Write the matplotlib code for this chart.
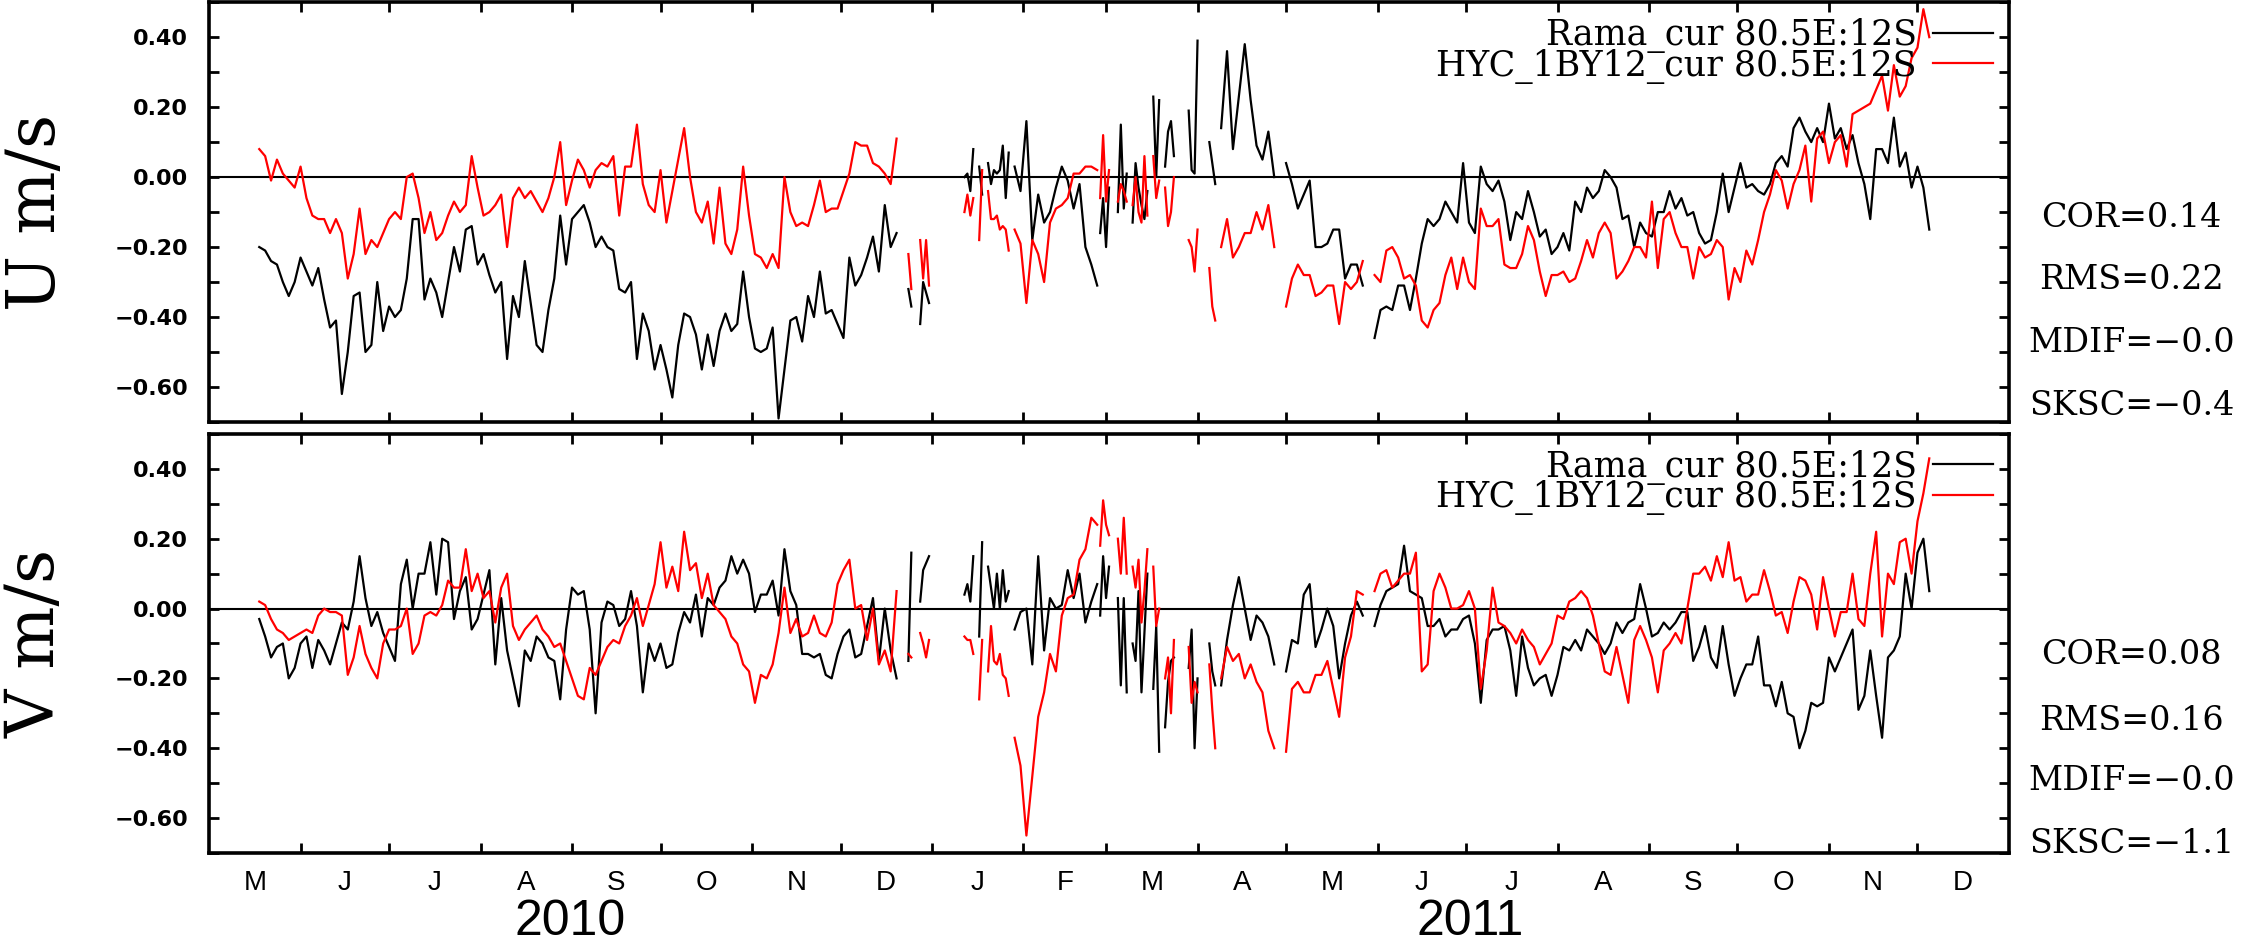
import numpy as np
import matplotlib
matplotlib.use('Agg')
import matplotlib.pyplot as plt
import matplotlib.transforms as mtransforms

# RAMA mooring vs HYCOM 1/12 currents at 80.5E, 12S (daily, May 2010 - Dec 2011)
start = np.datetime64('2010-05-01')

# data segments: first day (offset from 2010-05-01) and spacing in days
seg_first = [17, 237, 241, 256, 261, 264, 273, 302, 308, 313, 320, 324, 332, 339, 343, 365, 395]
seg_step = [2, 1, 1, 1, 1, 1, 2, 1, 1, 1, 1, 1, 1, 1, 2, 2, 2]

u_rama = [
    [-0.20, -0.21, -0.24, -0.25, -0.30, -0.34, -0.30, -0.23, -0.27, -0.31,
     -0.26, -0.35, -0.43, -0.41, -0.62, -0.50, -0.34, -0.33, -0.50, -0.48,
     -0.30, -0.44, -0.37, -0.40, -0.38, -0.29, -0.12, -0.12, -0.35, -0.29,
     -0.33, -0.40, -0.30, -0.20, -0.27, -0.15, -0.14, -0.25, -0.22, -0.28,
     -0.33, -0.30, -0.52, -0.34, -0.40, -0.24, -0.36, -0.48, -0.50, -0.38,
     -0.29, -0.11, -0.25, -0.12, -0.10, -0.08, -0.13, -0.20, -0.17, -0.20,
     -0.21, -0.32, -0.33, -0.30, -0.52, -0.39, -0.44, -0.55, -0.48, -0.55,
     -0.63, -0.48, -0.39, -0.40, -0.45, -0.55, -0.45,
     -0.54, -0.44, -0.39, -0.44, -0.42, -0.27, -0.40, -0.49, -0.50, -0.49,
     -0.43, -0.69, -0.55, -0.41, -0.40, -0.47, -0.34, -0.40, -0.27, -0.39,
     -0.38, -0.42, -0.46, -0.23, -0.31, -0.28, -0.23, -0.17, -0.27, -0.08,
     -0.20, -0.16],
    [-0.32, -0.37],
    [-0.42, -0.30, -0.33, -0.36],
    [0.00, 0.01, -0.04, 0.08],
    [0.03, -0.05],
    [0.04, -0.02, 0.02, 0.01, 0.02, 0.09, -0.06, 0.07],
    [0.03, -0.04, 0.16, -0.18, -0.05, -0.13, -0.10, -0.03, 0.03, -0.01,
     -0.09, -0.02, -0.20, -0.25, -0.31],
    [-0.16, -0.06, -0.20, -0.03],
    [-0.10, 0.15, -0.09, 0.01],
    [-0.13, 0.04, -0.03, -0.08, -0.12, -0.04],
    [0.23, 0.00, 0.22],
    [0.03, 0.13, 0.16, 0.06],
    [0.19, 0.02, 0.01, 0.39],
    [0.10, 0.04, -0.02],
    [0.14, 0.36, 0.08, 0.23, 0.38, 0.22, 0.09, 0.05, 0.13, 0.00],
    [0.04, -0.02, -0.09, -0.05, -0.01, -0.20, -0.20, -0.19, -0.15, -0.15,
     -0.29, -0.25, -0.25, -0.31],
    [-0.46, -0.38, -0.37, -0.38, -0.31, -0.31, -0.38, -0.29, -0.19, -0.12,
     -0.14, -0.12, -0.07, -0.10, -0.13, 0.04, -0.13, -0.16, 0.03, -0.02,
     -0.04, -0.01, -0.07, -0.18, -0.10, -0.12, -0.04, -0.10, -0.17, -0.15,
     -0.22, -0.20, -0.16, -0.21, -0.07, -0.10, -0.03, -0.06, -0.04, 0.02,
     0.00, -0.03, -0.12, -0.11, -0.20, -0.13, -0.16, -0.17, -0.10, -0.10,
     -0.04, -0.09, -0.06, -0.11, -0.10, -0.16, -0.19,
     -0.18, -0.10, 0.01, -0.10, -0.03, 0.04, -0.03, -0.02, -0.04, -0.05,
     -0.02, 0.04, 0.06, 0.03, 0.14, 0.17, 0.13, 0.10, 0.14, 0.10,
     0.21, 0.11, 0.14, 0.08, 0.12, 0.04, -0.02, -0.12, 0.08, 0.08,
     0.04, 0.17, 0.03, 0.07, -0.03, 0.03, -0.03, -0.15],
]

u_hycom = [
    [0.08, 0.06, -0.01, 0.05, 0.01, -0.01, -0.03, 0.03, -0.06, -0.11,
     -0.12, -0.12, -0.16, -0.12, -0.16, -0.29, -0.22, -0.09, -0.22, -0.18,
     -0.20, -0.16, -0.12, -0.10, -0.12, 0.00, 0.01, -0.06, -0.16, -0.10,
     -0.18, -0.16, -0.11, -0.07, -0.10, -0.08, 0.06, -0.03, -0.11, -0.10,
     -0.08, -0.05, -0.20, -0.06, -0.03, -0.06, -0.04, -0.07, -0.10, -0.06,
     0.00, 0.10, -0.08, -0.01, 0.05, 0.02, -0.03, 0.02, 0.04, 0.03,
     0.06, -0.11, 0.03, 0.03, 0.15, -0.02, -0.08, -0.10, 0.02, -0.13,
     -0.04, 0.05, 0.14, 0.00, -0.10, -0.13, -0.07,
     -0.19, -0.03, -0.19, -0.22, -0.15, 0.03, -0.11, -0.22, -0.23, -0.26,
     -0.22, -0.26, 0.00, -0.10, -0.14, -0.13, -0.14, -0.08, -0.01, -0.10,
     -0.09, -0.09, -0.04, 0.01, 0.10, 0.09, 0.09, 0.04, 0.03, 0.01,
     -0.02, 0.11],
    [-0.22, -0.32],
    [-0.18, -0.29, -0.18, -0.31],
    [-0.10, -0.05, -0.11, -0.06],
    [-0.18, 0.02],
    [-0.04, -0.12, -0.12, -0.11, -0.15, -0.14, -0.15, -0.21],
    [-0.15, -0.19, -0.36, -0.18, -0.22, -0.30, -0.13, -0.09, -0.08, -0.06,
     0.01, 0.01, 0.03, 0.03, 0.02],
    [-0.06, 0.12, -0.07, 0.02],
    [-0.07, -0.02, -0.04, -0.07],
    [-0.08, 0.00, -0.10, -0.13, 0.06, -0.11],
    [0.06, -0.06, -0.01],
    [-0.03, -0.14, -0.10, 0.00],
    [-0.18, -0.20, -0.27, -0.15],
    [-0.26, -0.37, -0.41],
    [-0.20, -0.12, -0.23, -0.20, -0.16, -0.16, -0.10, -0.15, -0.08, -0.20],
    [-0.37, -0.29, -0.25, -0.28, -0.28, -0.34, -0.33, -0.31, -0.31, -0.42,
     -0.30, -0.32, -0.30, -0.24],
    [-0.28, -0.30, -0.21, -0.20, -0.23, -0.29, -0.28, -0.31, -0.41, -0.43,
     -0.38, -0.36, -0.28, -0.23, -0.32, -0.23, -0.30, -0.32, -0.09, -0.14,
     -0.14, -0.12, -0.25, -0.26, -0.26, -0.22, -0.14, -0.18, -0.27, -0.34,
     -0.28, -0.28, -0.27, -0.30, -0.29, -0.24, -0.18, -0.23, -0.16, -0.13,
     -0.16, -0.29, -0.27, -0.24, -0.20, -0.20, -0.23, -0.07, -0.26, -0.12,
     -0.10, -0.16, -0.20, -0.20, -0.29, -0.20, -0.23,
     -0.22, -0.18, -0.20, -0.35, -0.26, -0.30, -0.21, -0.25, -0.18, -0.10,
     -0.05, 0.02, -0.01, -0.09, -0.02, 0.02, 0.09, -0.07, 0.11, 0.13,
     0.04, 0.10, 0.12, 0.03, 0.18, 0.19, 0.20, 0.21, 0.25, 0.29,
     0.19, 0.32, 0.23, 0.26, 0.34, 0.37, 0.48, 0.40],
]

v_rama = [
    [-0.03, -0.08, -0.14, -0.11, -0.10, -0.20, -0.17, -0.10, -0.08, -0.17,
     -0.09, -0.12, -0.16, -0.10, -0.04, -0.06, 0.02, 0.15, 0.03, -0.05,
     -0.01, -0.07, -0.11, -0.15, 0.07, 0.14, 0.00, 0.10, 0.10, 0.19,
     0.04, 0.20, 0.19, -0.03, 0.05, 0.09, -0.06, -0.03, 0.04, 0.11,
     -0.16, 0.03, -0.12, -0.20, -0.28, -0.12, -0.15, -0.08, -0.10, -0.14,
     -0.15, -0.26, -0.06, 0.06, 0.04, 0.05, -0.06, -0.30, -0.04, 0.02,
     0.01, -0.05, -0.03, 0.05, -0.05, -0.24, -0.10, -0.15, -0.10, -0.17,
     -0.16, -0.07, -0.01, -0.04, 0.04, -0.08, 0.03,
     0.01, 0.06, 0.08, 0.15, 0.10, 0.14, 0.10, -0.01, 0.04, 0.04,
     0.08, -0.02, 0.17, 0.05, 0.01, -0.13, -0.13, -0.14, -0.13, -0.19,
     -0.20, -0.13, -0.08, -0.06, -0.14, -0.13, -0.05, 0.03, -0.15, 0.00,
     -0.12, -0.20],
    [-0.15, 0.16],
    [0.02, 0.11, 0.13, 0.15],
    [0.04, 0.07, 0.02, 0.15],
    [-0.08, 0.19],
    [0.12, 0.06, 0.00, 0.10, 0.00, 0.11, 0.02, 0.05],
    [-0.06, -0.01, 0.00, -0.16, 0.15, -0.12, 0.03, 0.00, 0.01, 0.11,
     0.03, 0.10, -0.04, 0.02, 0.07],
    [-0.02, 0.15, 0.03, 0.12],
    [0.03, -0.22, 0.03, -0.24],
    [-0.10, -0.15, 0.05, -0.24, -0.07, 0.10],
    [-0.23, -0.05, -0.41],
    [-0.34, -0.21, -0.15, -0.14],
    [-0.17, -0.06, -0.40, -0.20],
    [-0.10, -0.18, -0.22],
    [-0.22, -0.09, 0.01, 0.09, 0.00, -0.09, -0.02, -0.04, -0.08, -0.16],
    [-0.18, -0.09, -0.10, 0.04, 0.07, -0.11, -0.06, 0.00, -0.05, -0.20,
     -0.10, -0.02, 0.02, -0.02],
    [-0.05, 0.01, 0.05, 0.06, 0.07, 0.18, 0.05, 0.04, 0.03, -0.05,
     -0.05, -0.03, -0.08, -0.06, -0.06, -0.03, -0.02, -0.10, -0.27, -0.09,
     -0.06, -0.06, -0.05, -0.12, -0.25, -0.08, -0.17, -0.22, -0.20, -0.19,
     -0.25, -0.19, -0.11, -0.12, -0.09, -0.12, -0.06, -0.08, -0.10, -0.13,
     -0.10, -0.04, -0.07, -0.04, -0.03, 0.07, 0.00, -0.08, -0.07, -0.04,
     -0.06, -0.04, -0.01, -0.01, -0.15, -0.11, -0.05,
     -0.14, -0.17, -0.05, -0.16, -0.25, -0.20, -0.16, -0.16, -0.08, -0.22,
     -0.22, -0.28, -0.21, -0.30, -0.31, -0.40, -0.35, -0.27, -0.28, -0.27,
     -0.14, -0.18, -0.14, -0.10, -0.06, -0.29, -0.25, -0.12, -0.25, -0.37,
     -0.14, -0.12, -0.08, 0.10, 0.00, 0.16, 0.20, 0.05],
]

v_hycom = [
    [0.02, 0.01, -0.03, -0.06, -0.07, -0.09, -0.08, -0.07, -0.06, -0.07,
     -0.02, 0.00, -0.01, -0.01, -0.02, -0.19, -0.14, -0.05, -0.13, -0.17,
     -0.20, -0.10, -0.06, -0.06, -0.05, 0.00, -0.13, -0.10, -0.02, -0.01,
     -0.02, 0.01, 0.08, 0.06, 0.06, 0.17, 0.05, 0.10, 0.03, 0.05,
     -0.04, 0.06, 0.10, -0.05, -0.09, -0.06, -0.04, -0.02, -0.06, -0.08,
     -0.11, -0.10, -0.15, -0.20, -0.25, -0.26, -0.17, -0.19, -0.15, -0.11,
     -0.09, -0.10, -0.05, -0.02, 0.03, -0.05, 0.01, 0.07, 0.19, 0.06,
     0.12, 0.05, 0.22, 0.11, 0.13, 0.03, 0.10,
     0.01, -0.01, -0.03, -0.08, -0.10, -0.16, -0.18, -0.27, -0.19, -0.20,
     -0.16, -0.07, 0.06, -0.07, -0.03, -0.08, -0.07, -0.02, -0.07, -0.08,
     -0.04, 0.07, 0.11, 0.14, 0.00, 0.01, -0.09, 0.00, -0.16, -0.12,
     -0.18, 0.05],
    [-0.13, -0.14],
    [-0.07, -0.10, -0.14, -0.09],
    [-0.08, -0.09, -0.09, -0.13],
    [-0.26, -0.09],
    [-0.18, -0.05, -0.15, -0.16, -0.13, -0.19, -0.20, -0.25],
    [-0.37, -0.45, -0.65, -0.48, -0.31, -0.24, -0.13, -0.18, -0.02, 0.03,
     0.04, 0.14, 0.17, 0.26, 0.24],
    [0.18, 0.31, 0.24, 0.21],
    [0.20, 0.10, 0.26, 0.10],
    [0.12, 0.06, 0.14, -0.04, 0.05, 0.17],
    [0.12, -0.05, 0.00],
    [-0.20, -0.14, -0.30, -0.09],
    [-0.11, -0.27, -0.21, -0.24],
    [-0.16, -0.29, -0.40],
    [-0.20, -0.11, -0.15, -0.13, -0.20, -0.16, -0.21, -0.24, -0.35, -0.40],
    [-0.41, -0.23, -0.21, -0.24, -0.24, -0.19, -0.19, -0.15, -0.23, -0.31,
     -0.14, -0.08, 0.05, 0.04],
    [0.05, 0.10, 0.11, 0.06, 0.08, 0.10, 0.10, 0.16, -0.18, -0.16,
     0.05, 0.10, 0.06, 0.00, 0.00, 0.01, 0.05, 0.00, -0.23, -0.12,
     0.06, -0.04, -0.05, -0.07, -0.10, -0.06, -0.09, -0.11, -0.16, -0.13,
     -0.10, -0.02, -0.03, 0.02, 0.03, 0.05, 0.03, -0.02, -0.10, -0.18,
     -0.19, -0.11, -0.19, -0.27, -0.09, -0.05, -0.09, -0.14, -0.24, -0.12,
     -0.10, -0.07, -0.10, 0.00, 0.10, 0.10, 0.12,
     0.08, 0.15, 0.09, 0.19, 0.08, 0.09, 0.02, 0.04, 0.04, 0.11,
     0.05, -0.02, -0.01, -0.07, 0.02, 0.09, 0.08, 0.04, -0.06, 0.09,
     0.00, -0.08, -0.01, -0.01, 0.10, -0.03, -0.05, 0.10, 0.22, -0.08,
     0.10, 0.07, 0.19, 0.20, 0.10, 0.25, 0.33, 0.43],
]

u_stats = ['COR=0.14', 'RMS=0.22', 'MDIF=\u22120.0', 'SKSC=\u22120.4']
v_stats = ['COR=0.08', 'RMS=0.16', 'MDIF=\u22120.0', 'SKSC=\u22121.1']
label_rama = 'Rama_cur 80.5E:12S'
label_hycom = 'HYC_1BY12_cur 80.5E:12S'

SERIF = ['DejaVu Serif']
SANS = ['Liberation Sans', 'DejaVu Sans']


def build(parts):
    """segments -> x (days) and y with NaN breaks between them"""
    x, y = [], []
    for first, step, vals in zip(seg_first, seg_step, parts):
        days = first + step * np.arange(len(vals))
        x.extend(days.tolist())
        y.extend(vals)
        x.append(days[-1] + 0.5)
        y.append(np.nan)
    return np.array(x, dtype=float), np.array(y, dtype=float)


# month boundaries and labels
months = np.arange(np.datetime64('2010-05'), np.datetime64('2012-02'), dtype='datetime64[M]')
bounds = (months.astype('datetime64[D]') - start).astype(int)
mids = (bounds[:-1] + bounds[1:]) / 2.0
month_letters = ['JFMAMJJASOND'[int(str(m)[5:7]) - 1] for m in months[:-1]]
year_start = int((np.datetime64('2011-01-01') - start).astype(int))

ytick_vals = np.arange(-0.6, 0.41, 0.2)
ytick_labels = [('%.2f' % v).replace('-', '\u2212') for v in ytick_vals]

fig = plt.figure(figsize=(22.58, 9.44), dpi=100)
ax1 = fig.add_axes([0.0926, 0.5530, 0.7971, 0.4447])
ax2 = fig.add_axes([0.0926, 0.0964, 0.7971, 0.4439])

panels = [(ax1, u_rama, u_hycom, 'U m/s', u_stats, [0.769, 0.703, 0.637, 0.570]),
          (ax2, v_rama, v_hycom, 'V m/s', v_stats, [0.306, 0.236, 0.173, 0.106])]

for ax, obs, mod, ylab, stats, ys in panels:
    ax.axhline(0, color='black', lw=1.5, zorder=1)
    xo, yo = build(obs)
    xm, ym = build(mod)
    ax.plot(xo, yo, color='black', lw=1.6, label=label_rama, zorder=2)
    ax.plot(xm, ym, color='#ff0000', lw=1.6, label=label_hycom, zorder=3)

    ax.set_xlim(bounds[0], bounds[-1])
    ax.set_ylim(-0.7, 0.5)
    ax.set_yticks(ytick_vals)
    ax.set_yticks(np.arange(-0.7, 0.51, 0.1), minor=True)
    ax.set_yticklabels(ytick_labels, fontsize=16, fontweight='bold', family=['DejaVu Sans'])
    ax.set_xticks(bounds[1:-1])
    ax.set_xticklabels([])
    ax.tick_params(axis='both', which='both', direction='in', top=True, right=True,
                   length=7, width=2)
    ax.tick_params(axis='y', which='major', pad=15)
    for sp in ax.spines.values():
        sp.set_linewidth(2.6)

    ax.set_ylabel(ylab, fontsize=48, family=SERIF)
    ax.yaxis.set_label_coords(-0.078, 0.5)

    ax.legend(loc='upper right', markerfirst=False, frameon=False,
              prop={'family': SERIF, 'size': 25}, handlelength=1.75,
              handletextpad=0.45, labelspacing=-0.12, borderaxespad=0.1,
              borderpad=0.35)

    for s, yy in zip(stats, ys):
        fig.text(0.944, yy, s, ha='center', va='center', fontsize=24, family=SERIF)

# month letters on the lower panel
ax2.set_xticks(mids, minor=True)
ax2.set_xticklabels(month_letters, minor=True, fontsize=20, family=SANS)
ax2.tick_params(axis='x', which='minor', length=0, pad=12, top=False)
ax1.tick_params(axis='x', which='minor', length=0, top=False, bottom=False)

trans = mtransforms.blended_transform_factory(ax2.transData, ax2.transAxes)
ax2.text(year_start / 2.0, -0.165, '2010', transform=trans, ha='center', va='center',
         fontsize=36, family=SANS)
ax2.text((year_start + bounds[-1]) / 2.0, -0.165, '2011', transform=trans, ha='center',
         va='center', fontsize=36, family=SANS)

fig.savefig('out.png', dpi=100)
